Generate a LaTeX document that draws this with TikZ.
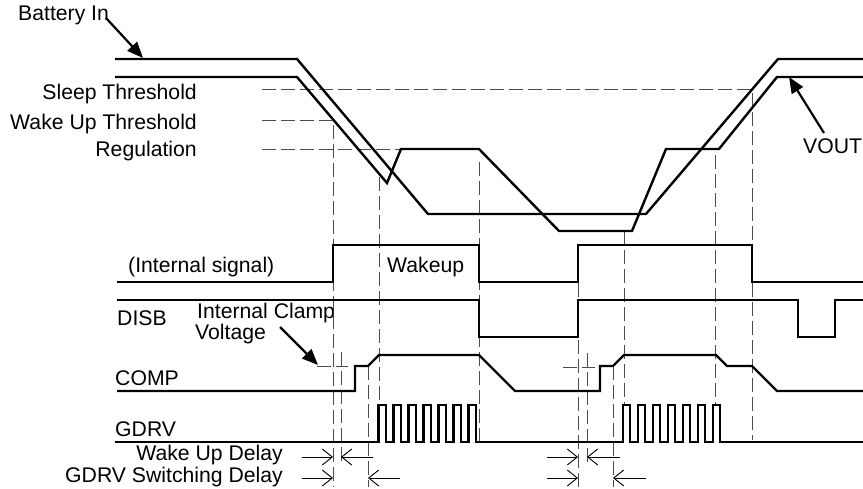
\documentclass[tikz,border=0pt]{standalone}
\usepackage{fontspec}
\setmainfont{Liberation Sans}
\usetikzlibrary{arrows.meta}
\begin{document}
\begin{tikzpicture}[x=1pt,y=-1pt,
  sig/.style={line width=2.4pt,line join=miter},
  guide/.style={line width=0.8pt,black!70,dash pattern=on 14pt off 5pt},
  bigarrow/.style={line width=2.2pt,-{Triangle[length=16pt,width=13pt]}},
  delayarrow/.style={line width=0.9pt,-{Straight Barb[length=10pt,width=16pt]}},
  lbl/.style={font=\fontsize{21.2}{23}\selectfont,inner sep=0pt}]
\useasboundingbox (0,0) rectangle (863,489);
% guide lines
\draw[guide] (262,89) -- (752,89) -- (752,440);
\draw[guide] (262,120) -- (333,120) -- (333,487);
\draw[guide] (262,149) -- (401,149);
\draw[guide] (379,177) -- (379,405);
\draw[guide] (479,162) -- (479,442);
\draw[guide] (624,231) -- (624,405);
\draw[guide] (715,155) -- (715,405);
\draw[guide] (317,366) -- (348,366);
\draw[guide] (341,352) -- (341,462);
\draw[guide] (368,366) -- (368,487);
\draw[guide] (563,367) -- (595,367);
\draw[guide] (578,245) -- (578,487);
\draw[guide] (587,353) -- (587,462);
\draw[guide] (613,366) -- (613,487);
% analog waveforms
\draw[sig] (115,59) -- (297,59) -- (428,214) -- (646,214) -- (778,59) -- (863,59);
\draw[sig] (115,77) -- (297,77) -- (387,183) -- (401,149) -- (479,149) -- (559,231) -- (632,231) -- (666,149) -- (719,149) -- (777,77) -- (863,77);
% internal signal
\draw[sig] (117,282) -- (333,282) -- (333,245) -- (479,245) -- (479,282) -- (578,282) -- (578,245) -- (752,245) -- (752,282) -- (863,282);
% DISB
\draw[sig] (117,300) -- (479,300) -- (479,337) -- (578,337) -- (578,300) -- (798,300) -- (798,337) -- (835,337) -- (835,300) -- (863,300);
% COMP
\draw[sig] (117,391) -- (355,391) -- (355,366) -- (368,366) -- (379,355) -- (479,355) -- (515,391) -- (600,391) -- (600,366) -- (613,366) -- (624,355) -- (716,355) -- (727,366) -- (752,366) -- (777,391) -- (863,391);
% GDRV
\draw[sig] (115,442) -- (378.3,442)
  foreach \i in {1,...,7} { -- ++(0,-37) -- ++(7.7,0) -- ++(0,37) -- ++(7.3,0) }
  -- (622.7,442)
  foreach \i in {1,...,7} { -- ++(0,-37) -- ++(7.3,0) -- ++(0,37) -- ++(7.7,0) }
  -- (863,442);
% labels
\node[lbl,anchor=base west] (bat) at (18,21) {Battery In};
\node[lbl,anchor=base east] (slp) at (197,100) {Sleep Threshold};
\node[lbl,anchor=base east] (wak) at (197,130) {Wake Up Threshold};
\node[lbl,anchor=base east] (reg) at (197,157) {Regulation};
\node[lbl,anchor=base west] (vout) at (803,154) {VOUT};
\node[lbl,anchor=base west] (ints) at (128,273) {(Internal signal)};
\node[lbl,anchor=base west] (wku) at (387,273) {Wakeup};
\node[lbl,anchor=base west] (disb) at (117,326) {DISB};
\node[lbl,anchor=base west] (icl) at (197,319) {Internal Clamp};
\node[lbl,anchor=base west] (volt) at (195,340) {Voltage};
\node[lbl,anchor=base west] (comp) at (115,385) {COMP};
\node[lbl,anchor=base west] (gdrv) at (115,436) {GDRV};
\node[lbl,anchor=base east] (wud) at (283,460) {Wake Up Delay};
\node[lbl,anchor=base east] (gsd) at (283,482) {GDRV Switching Delay};
% pointer arrows
\coordinate (batT) at (106,18);  \coordinate (batH) at (143,58);
\coordinate (voT) at (824,133);  \coordinate (voH) at (789,77);
\coordinate (clT) at (280,327);  \coordinate (clH) at (318,365);
\draw[bigarrow] (batT) -- (batH);
\draw[bigarrow] (voT) -- (voH);
\draw[bigarrow] (clT) -- (clH);
% delay arrows
\draw[delayarrow] (302,457) -- (333,457);
\draw[delayarrow] (373,457) -- (341,457);
\draw[delayarrow] (302,478) -- (333,478);
\draw[delayarrow] (400,478) -- (368,478);
\draw[delayarrow] (547,457) -- (578,457);
\draw[delayarrow] (620,457) -- (587,457);
\draw[delayarrow] (547,478) -- (578,478);
\draw[delayarrow] (646,478) -- (613,478);
\end{tikzpicture}
\end{document}
